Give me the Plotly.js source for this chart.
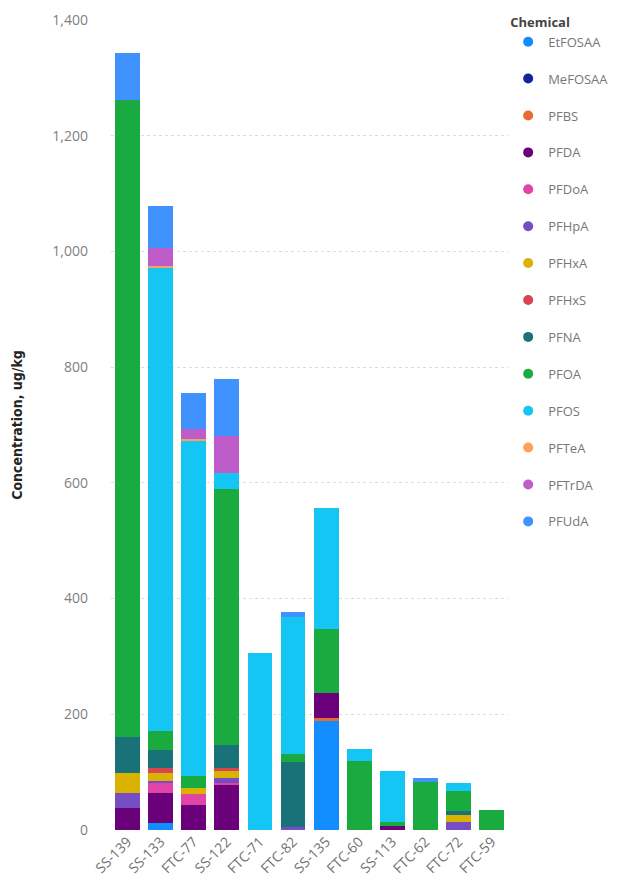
<!DOCTYPE html>
<html>
<head>
<meta charset="utf-8">
<script src="https://cdn.plot.ly/plotly-3.0.1.min.js"></script>
<style>html,body{margin:0;padding:0;background:#fff;}#chart{width:622px;height:894px;}</style>
</head>
<body>
<div id="chart"></div>
<script>
const sites = ["SS-139","SS-133","FTC-77","SS-122","FTC-71","FTC-82","SS-135","FTC-60","SS-113","FTC-62","FTC-72","FTC-59"];
const chemicals = ["EtFOSAA","MeFOSAA","PFBS","PFDA","PFDoA","PFHpA","PFHxA","PFHxS","PFNA","PFOA","PFOS","PFTeA","PFTrDA","PFUdA"];
const colors = ["#118DFF","#12239E","#E66C37","#6B007B","#E044A7","#744EC2","#D9B300","#D64550","#197278","#1AAB40","#15C6F4","#FFA058","#BE5DC9","#4092FF"];

const EtFOSAA = [0, 11.6, 0, 0, 0, 0, 189, 0, 0, 0, 0, 0];
const MeFOSAA = [0, 0, 0, 0, 0, 0, 0, 0, 0, 0, 0, 0];
const PFBS    = [0, 0, 0, 0, 0, 0, 4, 0, 0, 0, 0, 0];
const PFDA    = [38.6, 52, 44, 78, 0, 0, 44, 0, 7, 0, 0, 0];
const PFDoA   = [0, 17, 19, 3, 0, 0, 0, 0, 0, 0, 0, 0];
const PFHpA   = [26, 4, 0, 8.6, 0, 6, 0, 0, 0, 0, 14, 0];
const PFHxA   = [33.5, 14, 10, 12, 0, 0, 0, 0, 0, 0, 12.7, 0];
const PFHxS   = [0, 8.6, 0, 6, 0, 0, 0, 0, 0, 0, 0, 0];
const PFNA    = [62, 30.5, 0, 40, 0, 111, 0, 0, 0, 0, 5.7, 0];
const PFOA    = [1101, 33, 19.5, 441, 0, 14, 110, 120, 6, 83.5, 35, 34.6];
const PFOS    = [0, 801, 579, 29, 306, 237, 210, 20, 89, 0, 14, 0];
const PFTeA   = [0, 3.5, 5, 0, 0, 0, 0, 0, 0, 0, 0, 0];
const PFTrDA  = [0, 30.5, 16, 63, 0, 0, 0, 0, 0, 0, 0, 0];
const PFUdA   = [82, 73, 63, 98.5, 0, 8, 0, 0, 0, 7, 0, 0];

const values = [EtFOSAA, MeFOSAA, PFBS, PFDA, PFDoA, PFHpA, PFHxA, PFHxS, PFNA, PFOA, PFOS, PFTeA, PFTrDA, PFUdA];

const traces = [];
chemicals.forEach((c, i) => {
  traces.push({
    type: "bar", name: c, x: sites, y: values[i],
    marker: {color: colors[i], line: {width: 0}},
    showlegend: false, legendgroup: c
  });
});
chemicals.forEach((c, i) => {
  traces.push({
    type: "scatter", mode: "markers", name: c, x: [null], y: [null],
    marker: {color: colors[i], size: 10, symbol: "circle"},
    showlegend: true, legendgroup: c, hoverinfo: "skip"
  });
});

const layout = {
  width: 622, height: 894,
  margin: {l: 111, r: 112, t: 20, b: 64},
  paper_bgcolor: "#fff", plot_bgcolor: "#fff",
  barmode: "stack", bargap: 0.25,
  font: {family: "Open Sans, Noto Sans, sans-serif", color: "#605E5C", size: 12},
  xaxis: {
    type: "category", tickangle: -45, showgrid: false, zeroline: false,
    ticks: "", tickfont: {size: 14, color: "#707070"}, automargin: false
  },
  yaxis: {
    range: [0, 1400], dtick: 200, tickformat: ",d",
    showgrid: true, gridcolor: "#dcdcdc", griddash: "dot", gridwidth: 1,
    zeroline: false, ticks: "", ticklabelstandoff: 22,
    tickfont: {size: 14, color: "#808080"},
    title: {text: "Concentration, ug/kg", standoff: 26,
            font: {family: "DejaVu Sans Condensed, Noto Sans, sans-serif", size: 14, color: "#252423", weight: "bold"}},
    automargin: false
  },
  legend: {
    xref: "container", yref: "container",
    x: 0.817, xanchor: "left", y: 0.989, yanchor: "top",
    traceorder: "grouped", tracegroupgap: 17, maxheight: 700,
    font: {size: 13, color: "#777777"},
    title: {text: "<b>Chemical</b>", font: {size: 13, color: "#444444"}},
    itemwidth: 30
  },
  showlegend: true
};

Plotly.newPlot("chart", traces, layout, {displayModeBar: false, staticPlot: true});
</script>
</body>
</html>
